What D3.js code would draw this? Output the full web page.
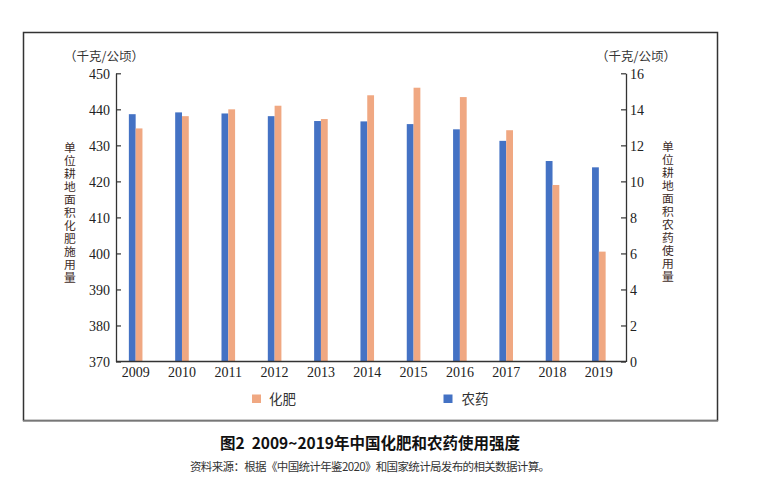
<html>
<head>
<meta charset="utf-8">
<script src="https://cdn.jsdelivr.net/npm/d3@7"></script>
<style>
  body { margin: 0; background: #fff; }
  text { font-family: "Liberation Serif", "Noto Sans CJK SC", serif; }
  .cjk { font-family: "Noto Sans CJK SC", sans-serif; }
</style>
</head>
<body>
<div id="chart"></div>
<script>
// data
var years = ['2009','2010','2011','2012','2013','2014','2015','2016','2017','2018','2019'];
var fertilizer = [434.7, 438.1, 440.0, 441.0, 437.3, 443.9, 446.0, 443.4, 434.2, 419.0, 400.5]; // 化肥, left axis
var pesticide = [13.73, 13.83, 13.77, 13.62, 13.35, 13.33, 13.18, 12.89, 12.25, 11.13, 10.78]; // 农药, right axis
var leftTicks = [370, 380, 390, 400, 410, 420, 430, 440, 450];
var rightTicks = [0, 2, 4, 6, 8, 10, 12, 14, 16];

var W = 773, H = 493,
    blue = '#4472c4',
    orange = '#f0a882',
    ink = '#222';

var svg = d3.select('#chart').append('svg').attr('width', W).attr('height', H);

// frame around the chart
svg.append('rect').attr('x', 23.5).attr('y', 32.5).attr('width', 694).attr('height', 388)
  .attr('fill', 'none').attr('stroke', '#333').attr('stroke-width', 1.5);
svg.append('line').attr('x1', 23).attr('x2', 718).attr('y1', 420.8).attr('y2', 420.8)
  .attr('stroke', '#777').attr('stroke-width', 1.5);

// scales
var x = d3.scaleBand().domain(years).range([112.5, 622]);
var yL = d3.scaleLinear().domain([370, 450]).range([361.5, 73.3]);
var yR = d3.scaleLinear().domain([0, 16]).range([361.5, 73.3]);
var bw = 6.8;

// bars: 农药 left in each pair, 化肥 right
var g = svg.append('g');
g.selectAll('.p').data(years).enter().append('rect')
  .attr('x', function(d) { return x(d) + x.bandwidth() / 2 - bw; })
  .attr('y', function(d, i) { return yR(pesticide[i]); })
  .attr('width', bw)
  .attr('height', function(d, i) { return yR(0) - yR(pesticide[i]); })
  .attr('fill', blue);
g.selectAll('.f').data(years).enter().append('rect')
  .attr('x', function(d) { return x(d) + x.bandwidth() / 2; })
  .attr('y', function(d, i) { return yL(fertilizer[i]); })
  .attr('width', bw)
  .attr('height', function(d, i) { return yL(370) - yL(fertilizer[i]); })
  .attr('fill', orange);

// axes
var left = svg.append('g').attr('transform', 'translate(116,0)')
  .call(d3.axisRight(yL).tickValues(leftTicks).tickSize(5).tickSizeOuter(0));
left.selectAll('text').attr('x', -6).attr('text-anchor', 'end');
var right = svg.append('g').attr('transform', 'translate(626,0)')
  .call(d3.axisLeft(yR).tickValues(rightTicks).tickSize(5).tickSizeOuter(0));
right.selectAll('text').attr('x', 4).attr('text-anchor', 'start');
var bottom = svg.append('g').attr('transform', 'translate(0,361.5)')
  .call(d3.axisBottom(x).tickSize(0).tickPadding(6));
bottom.select('.domain').remove();
svg.append('line').attr('x1', 116).attr('x2', 626).attr('y1', 361.5).attr('y2', 361.5)
  .attr('stroke', '#333').attr('stroke-width', 1.3);

[left, right, bottom].forEach(function(a) {
  a.selectAll('text').style('font-family', '"Liberation Serif", serif').style('font-size', '14px').attr('fill', ink);
  a.selectAll('line').attr('stroke', '#333').attr('stroke-width', 1.2);
  a.select('.domain').attr('stroke', '#333').attr('stroke-width', 1.3);
});
left.selectAll('.tick text').attr('dy', '0.35em');
right.selectAll('.tick text').attr('dy', '0.35em');

// units
svg.append('text').attr('class', 'cjk').attr('x', 104).attr('y', 61).attr('text-anchor', 'middle')
  .style('font-size', '12.5px').attr('fill', '#333').text('（千克/公顷）');
svg.append('text').attr('class', 'cjk').attr('x', 636).attr('y', 61).attr('text-anchor', 'middle')
  .style('font-size', '12.5px').attr('fill', '#333').text('（千克/公顷）');

// vertical axis titles, set in vertical writing mode
function vertical(str, cx, top) {
  svg.append('text').attr('class', 'cjk')
    .attr('x', cx).attr('y', top)
    .style('writing-mode', 'vertical-rl')
    .style('text-orientation', 'upright')
    .style('letter-spacing', '1.2px')
    .style('font-size', '11.8px').attr('fill', '#3e2c28')
    .text(str);
}
vertical('单位耕地面积化肥施用量', 70, 141.5);
vertical('单位耕地面积农药使用量', 668, 140.5);

// legend
svg.append('rect').attr('x', 252).attr('y', 394.5).attr('width', 9).attr('height', 8.5).attr('fill', orange);
svg.append('text').attr('class', 'cjk').attr('x', 269).attr('y', 403.5)
  .style('font-size', '13.5px').attr('fill', '#333').text('化肥');
svg.append('rect').attr('x', 443.5).attr('y', 394.5).attr('width', 9).attr('height', 8.5).attr('fill', blue);
svg.append('text').attr('class', 'cjk').attr('x', 461.5).attr('y', 403.5)
  .style('font-size', '13.5px').attr('fill', '#333').text('农药');

// caption
svg.append('text').attr('class', 'cjk').attr('x', 370).attr('y', 448.5).attr('text-anchor', 'middle')
  .style('font-size', '15.5px').style('font-weight', 'bold').style('white-space', 'pre').attr('fill', '#111')
  .text('图2  2009~2019年中国化肥和农药使用强度');
svg.append('text').attr('class', 'cjk').attr('x', 190).attr('y', 471)
  .attr('textLength', 360)
  .style('font-size', '11.5px').attr('fill', '#333')
  .text('资料来源：根据《中国统计年鉴2020》和国家统计局发布的相关数据计算。');
</script>
</body>
</html>
